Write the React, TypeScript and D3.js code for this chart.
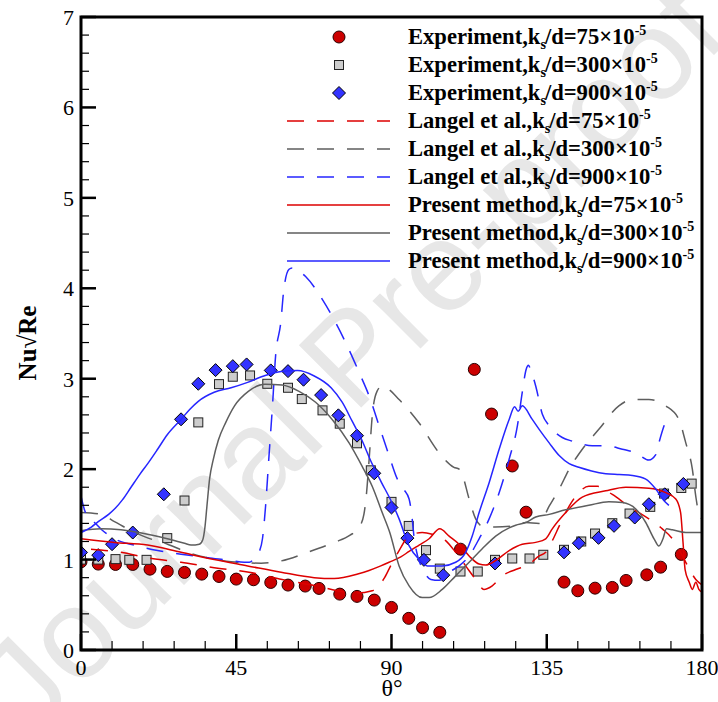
import React from 'react';
import * as d3 from 'd3';

// ---- data -------------------------------------------------------------
type Pt = [number, number];

const xTickValues = [0, 45, 90, 135, 180];
const yTickValues = [0, 1, 2, 3, 4, 5, 6, 7];

// Experiment, ks/d = 75e-5 (circles)
const expTheta75 = [0, 5, 10, 15, 20, 25, 30, 35, 40, 45, 50, 55, 60, 65, 69, 75, 80, 85, 90, 95, 99, 104, 110, 114, 119, 125, 129, 140, 144, 149, 154, 158, 164, 168, 174];
const expNu75 = [0.975, 0.95, 0.946, 0.946, 0.894, 0.869, 0.858, 0.839, 0.813, 0.784, 0.777, 0.747, 0.718, 0.707, 0.681, 0.618, 0.593, 0.552, 0.471, 0.35, 0.246, 0.195, 1.115, 3.103, 2.609, 2.035, 1.524, 0.751, 0.655, 0.684, 0.692, 0.769, 0.831, 0.916, 1.057];

// Experiment, ks/d = 300e-5 (squares)
const expTheta300 = [0, 5, 10, 14, 19, 25, 30, 34, 40, 44, 49, 54, 60, 64, 70, 75, 80, 84, 90, 95, 100, 104, 110, 115, 120, 125, 130, 134, 140, 145, 149, 154, 159, 165, 169, 174, 177];
const expNu300 = [1.0, 1.0, 1.005, 0.997, 0.997, 1.237, 1.653, 2.517, 2.94, 3.022, 3.036, 2.944, 2.9, 2.775, 2.65, 2.503, 2.286, 1.987, 1.638, 1.372, 1.104, 0.9, 0.868, 0.868, 0.997, 1.012, 1.012, 1.053, 1.108, 1.2, 1.288, 1.402, 1.509, 1.583, 1.73, 1.792, 1.84];

// Experiment, ks/d = 900e-5 (diamonds)
const expTheta900 = [0, 5, 9, 15, 24, 29, 34, 39, 44, 48, 55, 60, 64.5, 69.6, 74.6, 80, 85, 90, 94.6, 99.4, 105, 120, 140, 144.3, 150, 154.5, 160.5, 164.6, 169.2, 174.6];
const expNu900 = [1.079, 1.049, 1.17, 1.299, 1.722, 2.551, 2.944, 3.095, 3.139, 3.158, 3.092, 3.084, 2.989, 2.819, 2.595, 2.37, 1.954, 1.576, 1.237, 0.997, 0.828, 0.957, 1.08, 1.181, 1.24, 1.373, 1.465, 1.612, 1.722, 1.836];

// Langel et al. curves
const langel75: Pt[] = [
  [2.9, 1.115], [11.6, 1.08], [19.3, 1.02], [29, 0.97], [38.6, 0.91], [48.7, 0.86], [58.3, 0.78], [68, 0.71],
  [76.7, 0.64], [80, 0.63], [84.4, 0.655], [86, 0.7], [88, 0.8], [90, 0.95], [92.2, 1.1], [95.1, 1.26],
  [98.9, 1.3], [101.8, 1.28], [105.7, 1.21], [108.6, 1.08], [111.5, 0.93], [114.4, 0.78], [116.8, 0.67],
  [119.2, 0.71], [122.1, 0.82], [126, 0.89], [129.9, 0.95], [132.8, 1.04], [134.7, 1.08], [136.5, 1.2],
  [138.6, 1.37], [141.5, 1.59], [144.5, 1.75], [147.2, 1.81], [149.7, 1.81], [154, 1.72], [158.8, 1.59],
  [161.7, 1.52], [164.6, 1.45], [168.5, 1.34], [171.4, 1.23], [173.5, 1.1], [175.3, 0.97], [178.2, 0.78], [180, 0.72],
];
const langel300: Pt[] = [
  [0, 1.52], [5.8, 1.5], [9.7, 1.42], [14.5, 1.32], [19.3, 1.24], [25.1, 1.17], [30.9, 1.08], [36.7, 1.02],
  [43.5, 0.975], [52.2, 0.96], [58, 0.985], [65.7, 1.08], [73.4, 1.19], [78, 1.27], [80.5, 1.35], [82, 1.5],
  [82.8, 1.75], [83.5, 2.1], [84.5, 2.62], [85.8, 2.86], [87.3, 2.92], [88.5, 2.9], [92.2, 2.77], [98, 2.51],
  [103.8, 2.18], [108.1, 2.02], [109.6, 2.0], [110.5, 1.94], [112.5, 1.67], [114.4, 1.45], [116.3, 1.37],
  [120, 1.36], [125, 1.37], [128.9, 1.41], [132.8, 1.4], [135.7, 1.59], [138.6, 1.78], [141.5, 2.0],
  [145.3, 2.22], [150.1, 2.44], [155.9, 2.7], [159.8, 2.77], [164.6, 2.77], [169.5, 2.7], [173.3, 2.55],
  [175.3, 2.29], [177.2, 2.0], [178.2, 1.7], [179, 1.52], [180, 1.45],
];
const langel900: Pt[] = [
  [0, 1.7], [1, 1.55], [2.5, 1.45], [3.9, 1.41], [6, 1.33], [9.7, 1.23], [16.4, 1.15], [22.2, 1.1], [29, 1.06],
  [36.7, 1.02], [43.5, 0.99], [47.3, 0.97], [48.8, 0.97], [50.4, 1.02], [51.6, 1.08], [52.6, 1.23], [53.5, 1.59],
  [54.5, 2.15], [55.5, 2.7], [56.4, 3.25], [57.9, 3.62], [58.8, 3.99], [60.3, 4.21], [61.2, 4.225], [63.2, 4.19],
  [65.1, 4.13], [69.9, 3.88], [73.8, 3.62], [77.7, 3.32], [80.6, 3.07], [83.5, 2.81], [86.4, 2.48], [89.3, 2.15],
  [91.7, 1.89], [93.5, 1.78], [95.1, 1.67], [96, 1.45], [96.5, 1.26], [97.5, 1.05], [99, 0.9], [101.4, 0.78],
  [103.8, 0.77], [106.7, 0.86], [109.6, 0.93], [112.5, 1.04], [115.4, 1.23], [118.3, 1.45], [121.2, 1.74],
  [124.1, 2.11], [126.5, 2.48], [127.9, 2.85], [129, 3.1], [129.7, 3.15], [130.3, 3.1], [131.8, 2.92],
  [133.7, 2.61], [135.7, 2.48], [139.5, 2.35], [142.4, 2.31], [148.2, 2.26], [152.1, 2.26], [156.9, 2.22],
  [160.8, 2.18], [164.6, 2.1], [166.6, 2.16], [167.5, 2.29], [169, 2.48], [169.5, 2.53],
];

// Present method curves
const present75: Pt[] = [
  [0, 1.23], [9.7, 1.19], [19.3, 1.16], [29, 1.08], [38.6, 1.0], [48.3, 0.93], [58, 0.86], [67.6, 0.8],
  [73.4, 0.79], [80.2, 0.84], [83.5, 0.88], [86.9, 0.93], [89.3, 0.97], [92.7, 1.03], [95.1, 1.09], [98, 1.16],
  [100.9, 1.23], [104, 1.34], [106.7, 1.26], [109.6, 1.17], [112.5, 1.04], [115.4, 0.95], [117.3, 0.94],
  [120.2, 0.99], [124.1, 1.1], [127.9, 1.17], [131.8, 1.19], [134.7, 1.23], [136.6, 1.34], [140.5, 1.52],
  [145.3, 1.69], [152.1, 1.76], [157.9, 1.8], [164.6, 1.79], [169.5, 1.74], [172.4, 1.67], [173.8, 1.52],
  [174.5, 1.19], [175.1, 0.89], [176.3, 0.75], [177.2, 0.67], [178.2, 0.75], [179.1, 0.67], [180, 0.64],
];
const present300: Pt[] = [
  [0, 1.32], [5.8, 1.34], [11.6, 1.33], [15, 1.31], [19.3, 1.28], [23, 1.25], [27, 1.21], [30, 1.18],
  [31.9, 1.16], [34.3, 1.17], [35.3, 1.22], [35.9, 1.35], [36.5, 1.59], [37.3, 1.9], [38.3, 2.1], [39.8, 2.32],
  [42, 2.52], [44.5, 2.7], [48.5, 2.86], [53.3, 2.94], [58.3, 2.93], [63.2, 2.86], [68, 2.74], [72.8, 2.55],
  [77.7, 2.29], [81.5, 2.03], [84.4, 1.81], [87.3, 1.52], [89.5, 1.3], [92.2, 0.93], [95.1, 0.71], [98.9, 0.58],
  [100.9, 0.58], [104.7, 0.67], [108.6, 0.82], [112.5, 0.97], [116.3, 1.12], [120.2, 1.26], [124.1, 1.35],
  [126, 1.38], [128.9, 1.41], [131.8, 1.47], [135.7, 1.5], [140.5, 1.55], [147.2, 1.6], [153, 1.64],
  [156.9, 1.63], [160.8, 1.56], [163.7, 1.41], [166.1, 1.23], [167.5, 1.15], [168.7, 1.23], [169.7, 1.34],
  [171.4, 1.33], [175.3, 1.3], [180, 1.3],
];
const present900: Pt[] = [
  [0, 1.3], [3, 1.36], [5, 1.42], [8, 1.5], [10, 1.57], [12, 1.66], [14.5, 1.8], [17, 1.94], [19.5, 2.07],
  [22.2, 2.22], [25, 2.38], [29, 2.55], [31.5, 2.66], [34, 2.75], [38.6, 2.85], [43.5, 2.9], [48.3, 2.96],
  [53, 3.03], [58, 3.08], [62.8, 3.09], [67.6, 3.03], [72.5, 2.9], [75.7, 2.74], [78.6, 2.53], [81.3, 2.33],
  [84, 2.09], [87, 1.86], [90, 1.64], [92.2, 1.45], [95, 1.16], [98, 1.0], [100.4, 0.93], [104.7, 0.93],
  [108.6, 0.97], [111.5, 1.08], [113.4, 1.26], [115.4, 1.52], [118.3, 1.85], [121.2, 2.22], [124.1, 2.55],
  [125.7, 2.69], [126.7, 2.64], [127.9, 2.7], [130.8, 2.55], [132.8, 2.44], [135.7, 2.29], [138.6, 2.15],
  [141.5, 2.06], [144.3, 2.02], [148, 1.98], [152.1, 1.95], [156, 1.94], [159.8, 1.93], [163.7, 1.89],
  [166.6, 1.78], [169, 1.65], [170.4, 1.6],
];

// ---- layout & style -----------------------------------------------------
const W = 718;
const H = 702;
const plot = { left: 81, right: 702, top: 17, bottom: 650 };

const RED = '#dd0000';
const GRAY = '#5e5e5e';
const BLUE = '#2626ff';
const DASH = '17,13';
const SERIF = '"Liberation Serif", "Times New Roman", serif';

const x = d3.scaleLinear().domain([0, 180]).range([plot.left, plot.right]);
const y = d3.scaleLinear().domain([0, 7]).range([plot.bottom, plot.top]);

const line = d3
  .line<Pt>()
  .x((d) => x(d[0]))
  .y((d) => y(d[1]))
  .curve(d3.curveMonotoneX);

const zip = (a: number[], b: number[]): Pt[] => a.map((v, i) => [v, b[i]]);

type MarkerKind = 'circle' | 'square' | 'diamond';

function Marker({ kind, cx, cy }: { kind: MarkerKind; cx: number; cy: number }) {
  if (kind === 'circle')
    return <circle cx={cx} cy={cy} r={6} fill="#cc0000" stroke="#2a0000" strokeWidth={1} />;
  if (kind === 'square')
    return <rect x={cx - 4.5} y={cy - 4.5} width={9} height={9} fill="#cdcdcd" stroke="#222" strokeWidth={1} />;
  const s = 6.5;
  return (
    <path
      d={`M${cx},${cy - s}L${cx + s},${cy}L${cx},${cy + s}L${cx - s},${cy}Z`}
      fill="#3333ff"
      stroke="#000"
      strokeWidth={1}
    />
  );
}

type LegendRow =
  | { type: 'marker'; kind: MarkerKind; name: string; ks: string }
  | { type: 'line'; color: string; dashed: boolean; name: string; ks: string };

const legendRows: LegendRow[] = [
  { type: 'marker', kind: 'circle', name: 'Experiment', ks: '75' },
  { type: 'marker', kind: 'square', name: 'Experiment', ks: '300' },
  { type: 'marker', kind: 'diamond', name: 'Experiment', ks: '900' },
  { type: 'line', color: RED, dashed: true, name: 'Langel et al.', ks: '75' },
  { type: 'line', color: GRAY, dashed: true, name: 'Langel et al.', ks: '300' },
  { type: 'line', color: BLUE, dashed: true, name: 'Langel et al.', ks: '900' },
  { type: 'line', color: RED, dashed: false, name: 'Present method', ks: '75' },
  { type: 'line', color: GRAY, dashed: false, name: 'Present method', ks: '300' },
  { type: 'line', color: BLUE, dashed: false, name: 'Present method', ks: '900' },
];

export default function App() {
  const xMinor = d3.range(0, 181, 9).filter((v) => v % 45 !== 0);
  const yMinor = d3.range(0, 7.001, 0.2).filter((v) => Math.abs(v - Math.round(v)) > 1e-6);

  const markerSets: { kind: MarkerKind; pts: Pt[] }[] = [
    { kind: 'circle', pts: zip(expTheta75, expNu75) },
    { kind: 'square', pts: zip(expTheta300, expNu300) },
    { kind: 'diamond', pts: zip(expTheta900, expNu900) },
  ];
  const curves = [
    { pts: langel75, color: RED, dashed: true },
    { pts: langel300, color: GRAY, dashed: true },
    { pts: langel900, color: BLUE, dashed: true },
    { pts: present75, color: RED, dashed: false },
    { pts: present300, color: GRAY, dashed: false },
    { pts: present900, color: BLUE, dashed: false },
  ];

  const legendTop = 37;
  const legendStep = 28;

  return (
    <svg
      width={W}
      height={H}
      viewBox={`0 0 ${W} ${H}`}
      style={{ position: 'absolute', left: 0, top: 0, background: '#fff' }}
      fontFamily={SERIF}
    >
      <defs>
        <clipPath id="plot-area">
          <rect x={plot.left} y={plot.top} width={plot.right - plot.left} height={plot.bottom - plot.top} />
        </clipPath>
      </defs>
      <rect x={0} y={0} width={W} height={H} fill="#fff" />

      {/* watermark */}
      <text
        x={350}
        y={356}
        transform="rotate(-45 350 356)"
        textAnchor="middle"
        dominantBaseline="central"
        fontFamily='"Liberation Sans", Arial, sans-serif'
        fontSize={128}
        fill="#e7e7e7"
      >
        Journal Pre-proof
      </text>

      {/* data */}
      <g clipPath="url(#plot-area)">
        {markerSets.map((set) => (
          <g key={set.kind}>
            {set.pts.map((p, i) => (
              <Marker key={i} kind={set.kind} cx={x(p[0])} cy={y(p[1])} />
            ))}
          </g>
        ))}
        {curves.map((c, i) => (
          <path
            key={i}
            d={line(c.pts) ?? ''}
            fill="none"
            stroke={c.color}
            strokeWidth={1.5}
            strokeDasharray={c.dashed ? DASH : undefined}
          />
        ))}
      </g>

      {/* ticks */}
      <g stroke="#000">
        {xTickValues.map((v) => (
          <line key={`xM${v}`} x1={x(v)} x2={x(v)} y1={plot.bottom} y2={plot.bottom - 16} strokeWidth={2.5} />
        ))}
        {xMinor.map((v) => (
          <line key={`xm${v}`} x1={x(v)} x2={x(v)} y1={plot.bottom} y2={plot.bottom - 9} strokeWidth={1.2} />
        ))}
        {yTickValues.map((v) => (
          <line key={`yM${v}`} x1={plot.left} x2={plot.left + 15} y1={y(v)} y2={y(v)} strokeWidth={2.5} />
        ))}
        {yMinor.map((v) => (
          <line key={`ym${v.toFixed(1)}`} x1={plot.left} x2={plot.left + 8} y1={y(v)} y2={y(v)} strokeWidth={1.2} />
        ))}
      </g>

      {/* frame */}
      <rect
        x={plot.left}
        y={plot.top}
        width={plot.right - plot.left}
        height={plot.bottom - plot.top}
        fill="none"
        stroke="#000"
        strokeWidth={3}
      />

      {/* tick labels */}
      <g fontSize={22} fill="#000">
        {xTickValues.map((v) => (
          <text key={`xl${v}`} x={x(v)} y={plot.bottom + 25} textAnchor="middle">
            {v}
          </text>
        ))}
        {yTickValues.map((v) => (
          <text key={`yl${v}`} x={plot.left - 7} y={y(v) + 8} textAnchor="end">
            {v}
          </text>
        ))}
      </g>

      {/* axis titles */}
      <text x={392} y={696} textAnchor="middle" fontSize={24}>
        θ°
      </text>
      <text
        x={36}
        y={343}
        transform="rotate(-90 36 343)"
        textAnchor="middle"
        fontSize={25}
        fontWeight="bold"
      >
        Nu√Re
      </text>

      {/* legend */}
      <g>
        {legendRows.map((row, i) => {
          const cy = legendTop + i * legendStep;
          return (
            <g key={i}>
              {row.type === 'marker' ? (
                <Marker kind={row.kind} cx={339} cy={cy} />
              ) : (
                <line
                  x1={287}
                  x2={390}
                  y1={cy}
                  y2={cy}
                  stroke={row.color}
                  strokeWidth={1.5}
                  strokeDasharray={row.dashed ? DASH : undefined}
                />
              )}
              <text x={408} y={cy + 7} fontSize={22.6} fontWeight="bold" fill="#000">
                {row.name},k
                <tspan fontSize={14} dy={5}>
                  s
                </tspan>
                <tspan fontSize={22.6} dy={-5} dx={-1}>
                  /d={row.ks}×10
                </tspan>
                <tspan fontSize={14} dy={-9}>
                  -5
                </tspan>
              </text>
            </g>
          );
        })}
      </g>
    </svg>
  );
}
